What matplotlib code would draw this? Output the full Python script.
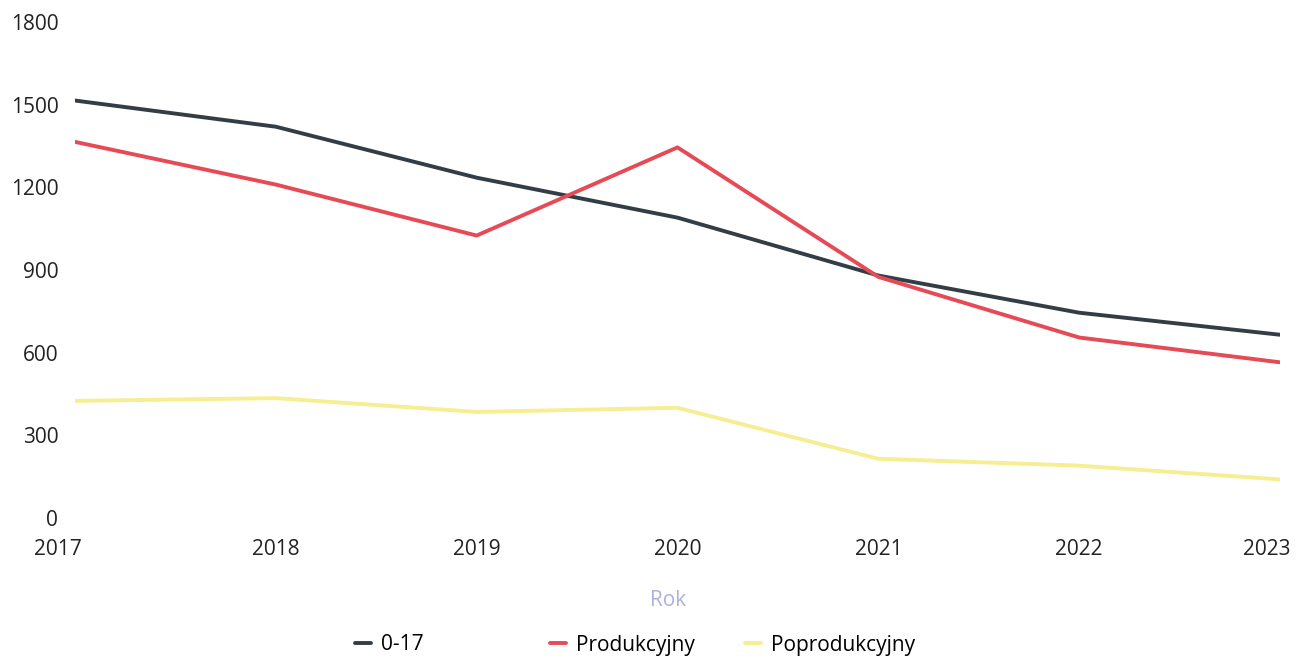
import matplotlib
matplotlib.use("Agg")
import matplotlib.pyplot as plt
from matplotlib.transforms import ScaledTranslation

years = [2017, 2018, 2019, 2020, 2021, 2022, 2023]
series_names = ["0-17", "Produkcyjny", "Poprodukcyjny"]
v_0_17 = [1515, 1420, 1235, 1090, 880, 745, 665]
v_prod = [1365, 1210, 1025, 1345, 875, 655, 565]
v_poprod = [425, 435, 385, 400, 215, 190, 140]
y_ticks = [0, 300, 600, 900, 1200, 1500, 1800]
x_label = "Rok"

colors = ["#333d45", "#e64a56", "#f6ee92"]

plt.rcParams['font.family'] = ['Open Sans', 'DejaVu Sans']

fig = plt.figure(figsize=(12.99, 6.65), dpi=100)
ax = fig.add_axes([75/1299, 1 - 518/665, (1280-75)/1299, (518-22)/665])

lines = []
for vals, name, c in zip([v_0_17, v_prod, v_poprod], series_names, colors):
    ln, = ax.plot(years, vals, color=c, lw=2.8, solid_capstyle='round', label=name)
    lines.append(ln)

ax.set_xlim(2017, 2023)
ax.set_ylim(0, 1800)
ax.set_yticks(y_ticks)
ax.set_yticklabels([str(t) for t in y_ticks])
ax.set_xticks(years)
ax.set_xticklabels([str(y) for y in years])
for s in ax.spines.values():
    s.set_visible(False)
ax.tick_params(axis='both', length=0, labelsize=15, labelcolor='#222222')
ax.tick_params(axis='y', pad=12)
ax.tick_params(axis='x', pad=15)

xl = ax.get_xticklabels()
xl[0].set_transform(xl[0].get_transform() + ScaledTranslation(-0.17, 0, fig.dpi_scale_trans))
xl[-1].set_horizontalalignment('right')
xl[-1].set_transform(xl[-1].get_transform() + ScaledTranslation(0.1, 0, fig.dpi_scale_trans))

fig.text(668/1299, 1 - 601/665, x_label, ha='center', va='center', fontsize=15, color='#aeb0de')

for ln, xpos in zip(lines, [355, 550, 745]):
    fig.legend(handles=[ln], loc='center left', bbox_to_anchor=(xpos/1299, 1 - 645/665),
               frameon=False, fontsize=15, handlelength=0.75, handletextpad=0.5,
               borderaxespad=0, borderpad=0)

fig.savefig("out.png", dpi=100, facecolor='white')
